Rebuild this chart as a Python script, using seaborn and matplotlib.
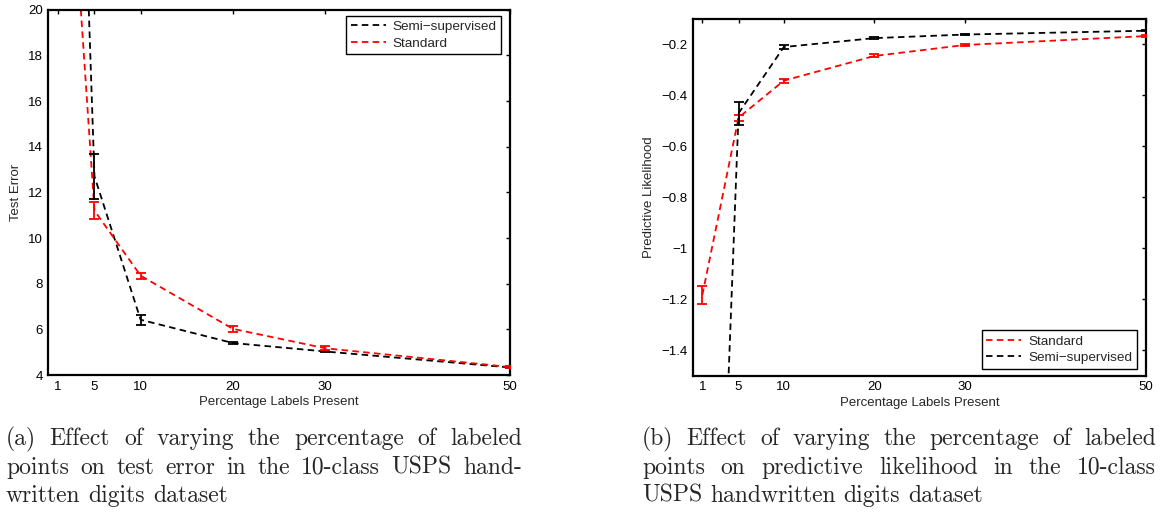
import numpy as np
import pandas as pd
import matplotlib
matplotlib.use("Agg")
import matplotlib.pyplot as plt
import seaborn as sns

# ---------------- data ----------------
pct = [1, 5, 10, 20, 30, 50]
x_ticks = [1, 5, 10, 20, 30, 50]

err_standard = [35.0, 11.2, 8.35, 6.02, 5.17, 4.35]
err_standard_sd = [0.0, 0.38, 0.13, 0.12, 0.08, 0.03]
err_semi = [60.0, 12.7, 6.42, 5.40, 5.03, 4.33]
err_semi_sd = [0.0, 1.0, 0.22, 0.05, 0.04, 0.02]

lik_standard = [-1.183, -0.487, -0.342, -0.245, -0.202, -0.167]
lik_standard_sd = [0.037, 0.012, 0.008, 0.006, 0.004, 0.003]
lik_semi = [-4.2, -0.47, -0.21, -0.175, -0.161, -0.146]
lik_semi_sd = [0.0, 0.045, 0.007, 0.003, 0.003, 0.002]

err_yticks = [4, 6, 8, 10, 12, 14, 16, 18, 20]
lik_yticks = [-1.4, -1.2, -1.0, -0.8, -0.6, -0.4, -0.2]
lik_yticklabels = ["\u22121.4", "\u22121.2", "\u22121", "\u22120.8", "\u22120.6", "\u22120.4", "\u22120.2"]

label_semi = "Semi\u2212supervised"
label_std = "Standard"
xlabel = "Percentage Labels Present"
ylabel_a = "Test Error"
ylabel_b = "Predictive Likelihood"

caption_a = ["(a) Effect of varying the percentage of labeled",
             "points on test error in the 10-class USPS hand-",
             "written digits dataset"]
caption_b = ["(b) Effect of varying the percentage of labeled",
             "points on predictive likelihood in the 10-class",
             "USPS handwritten digits dataset"]

# ---------------- style ----------------
sns.set_style("white")
plt.rcParams["font.family"] = ["Liberation Sans", "DejaVu Sans"]

W, H = 1160, 513
fig = plt.figure(figsize=(W / 100, H / 100), dpi=100)

def ax_rect(x0, y0, x1, y1):
    return [x0 / W, 1 - y1 / H, (x1 - x0) / W, (y1 - y0) / H]

ax1 = fig.add_axes(ax_rect(48.3, 9.7, 510.0, 375.0))
ax2 = fig.add_axes(ax_rect(693.3, 19.0, 1146.0, 375.7))

DASH = (0, (3.6, 2.4))
LW = 1.3
RED = "#ff0000"

def draw_series(ax, y, sd, color, label):
    sns.lineplot(x=pct, y=y, ax=ax, color=color, linestyle=DASH, linewidth=LW,
                 label=label, errorbar=None, sort=True)
    ax.errorbar(pct, y, yerr=sd, fmt="none", ecolor=color, elinewidth=1.3,
                capsize=3.6, capthick=1.3, zorder=3)

# panel (a)
draw_series(ax1, err_semi, err_semi_sd, "black", label_semi)
draw_series(ax1, err_standard, err_standard_sd, RED, label_std)
ax1.set_xlim(0, 50)
ax1.set_ylim(4, 20)
ax1.set_yticks(err_yticks)
ax1.set_yticklabels([str(v) for v in err_yticks])

# panel (b)
draw_series(ax2, lik_standard, lik_standard_sd, RED, label_std)
draw_series(ax2, lik_semi, lik_semi_sd, "black", label_semi)
ax2.set_xlim(0, 50)
ax2.set_ylim(-1.5, -0.1)
ax2.set_yticks(lik_yticks)
ax2.set_yticklabels(lik_yticklabels)

for ax, ylab, ylx in ((ax1, ylabel_a, -0.056), (ax2, ylabel_b, -0.0835)):
    ax.set_xticks(x_ticks)
    ax.set_xticklabels([str(v) for v in x_ticks])
    ax.tick_params(direction="in", top=True, right=True, length=3.2, width=1.0,
                   labelsize=9.5, pad=4, colors="black")
    for s in ax.spines.values():
        s.set_linewidth(1.6)
        s.set_color("black")
        s.set_visible(True)
    ax.set_xlabel(xlabel, fontsize=9.5)
    ax.set_ylabel(ylab, fontsize=9.5)
    ax.yaxis.set_label_coords(ylx, 0.5)

ax1.xaxis.set_label_coords(0.5, -21.5 / 365.3)
ax2.xaxis.set_label_coords(0.5, -21.5 / 356.7)

leg_kw = dict(frameon=True, fancybox=False, framealpha=1, edgecolor="black",
              fontsize=9.7, handlelength=2.6, borderaxespad=0, borderpad=0.35,
              labelspacing=0.3, handletextpad=0.5)
l1 = ax1.legend(loc="upper right", bbox_to_anchor=(0.9805, 0.983), **leg_kw)
l2 = ax2.legend(loc="lower right", bbox_to_anchor=(0.980, 0.0196), **leg_kw)
for l in (l1, l2):
    l.get_frame().set_linewidth(1.0)

# ---------------- captions (justified) ----------------
renderer = fig.canvas.get_renderer()
CAP_FS = 17
CAP_FAMILY = ["cmr10", "DejaVu Serif"]

def space_width():
    sp = fig.text(0, 0, "a a", fontsize=CAP_FS, family=CAP_FAMILY)
    sp2 = fig.text(0, 0, "aa", fontsize=CAP_FS, family=CAP_FAMILY)
    g = sp.get_window_extent(renderer).width - sp2.get_window_extent(renderer).width
    sp.remove(); sp2.remove()
    return g

def caption_line(text, x0, x1, yb, justify=True):
    words = text.split(" ")
    arts = [fig.text(0, 0, w, fontsize=CAP_FS, family=CAP_FAMILY, va="baseline", ha="left")
            for w in words]
    widths = [a.get_window_extent(renderer).width for a in arts]
    if justify and len(words) > 1:
        gap = (x1 - x0 - sum(widths)) / (len(words) - 1)
    else:
        gap = space_width()
    x = x0
    for a, w in zip(arts, widths):
        a.set_position((x / W, 1 - yb / H))
        x += w + gap

baselines = [445, 474, 502]
for i, line in enumerate(caption_a):
    caption_line(line, 6, 522, baselines[i], justify=(i < 2))
for i, line in enumerate(caption_b):
    caption_line(line, 642, 1156, baselines[i], justify=(i < 2))

fig.savefig("out.png", dpi=100)
